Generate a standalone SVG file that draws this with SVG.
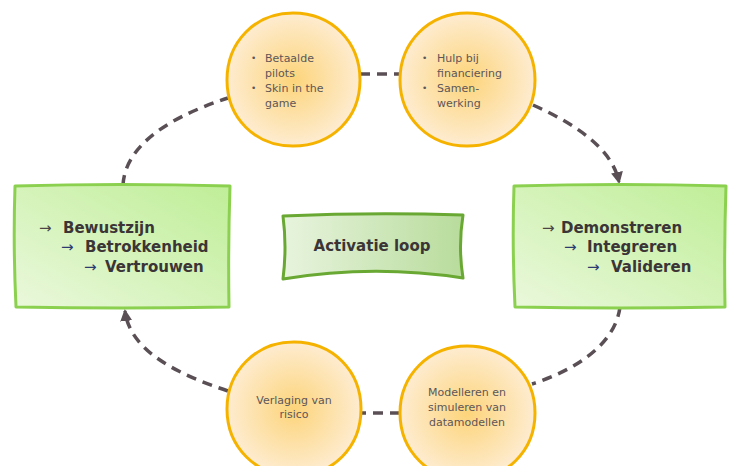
<svg xmlns="http://www.w3.org/2000/svg" width="732" height="466" viewBox="0 0 732 466">
  <style>
    .bubble { fill: url(#bubbleFill); stroke: #f5b300; stroke-width: 3; }
    .stage { fill: url(#stageFill); stroke: #8bd04f; stroke-width: 3; stroke-linejoin: round; }
    .hub { fill: url(#hubFill); stroke: #69a832; stroke-width: 3; stroke-linejoin: round; }
    .small { font-family: "DejaVu Sans", Verdana, sans-serif; font-size: 11px; fill: #5c5658; }
    .dot { font-family: "DejaVu Sans", Verdana, sans-serif; font-size: 9px; fill: #5c5658; }
    .big { font-family: "DejaVu Sans", Verdana, sans-serif; font-size: 15px; font-weight: bold; fill: #3b3537; }
    .arr1 { font-family: "Noto Sans", "DejaVu Sans", sans-serif; font-size: 15px; fill: #4a4446; }
    .arr2 { font-family: "Noto Sans", "DejaVu Sans", sans-serif; font-size: 15px; fill: #2c3a72; }
    .flow { fill: none; stroke: #594f54; stroke-width: 3.5; stroke-dasharray: 10 7; }
  </style>
  <defs>
    <radialGradient id="bubbleFill" cx="50%" cy="50%" r="50%">
      <stop offset="0" stop-color="#fcd47a"/>
      <stop offset="1" stop-color="#feecd0"/>
    </radialGradient>
    <linearGradient id="stageFill" x1="0" y1="1" x2="1" y2="0">
      <stop offset="0" stop-color="#eaf8dc"/>
      <stop offset="1" stop-color="#bfee97"/>
    </linearGradient>
    <linearGradient id="hubFill" x1="0" y1="0" x2="1" y2="0">
      <stop offset="0" stop-color="#e8f4de"/>
      <stop offset="1" stop-color="#b8dc9c"/>
    </linearGradient>
    <marker id="head" markerUnits="userSpaceOnUse" markerWidth="14" markerHeight="14" refX="10" refY="6" orient="auto">
      <path d="M0,0 L12,6 L0,12 Z" fill="#594f54"/>
    </marker>
  </defs>

  <!-- dashed cycle connectors -->
  <g id="connectors">
    <path class="flow" d="M123,185 C125,150 160,120 228,98"/>
    <path class="flow" d="M360,74 L400,74"/>
    <path class="flow" d="M533,105 C575,124 612,148 619,182" marker-end="url(#head)"/>
    <path class="flow" d="M620,307 C615,345 575,370 532,384"/>
    <path class="flow" d="M400,413 L362,413"/>
    <path class="flow" d="M228,391 C180,375 130,352 125,311" marker-end="url(#head)"/>
  </g>

  <g id="bubble-pilots">
    <path class="bubble" d="M293,13 C332,13 360,42 360,80 C360,118 332,146 293,146 C255,146 227,118 227,80 C227,42 255,13 293,13 Z"/>
    <text class="dot" x="251" y="61">•</text>
    <text class="small" x="265" y="62">Betaalde</text>
    <text class="small" x="265" y="77">pilots</text>
    <text class="dot" x="251" y="91">•</text>
    <text class="small" x="265" y="92">Skin in the</text>
    <text class="small" x="265" y="107">game</text>
  </g>

  <g id="bubble-financiering">
    <path class="bubble" d="M467,13 C506,13 535,42 535,80 C535,118 506,146 467,146 C429,146 400,118 400,80 C400,42 429,13 467,13 Z"/>
    <text class="dot" x="422" y="61">•</text>
    <text class="small" x="437" y="62">Hulp bij</text>
    <text class="small" x="437" y="77">financiering</text>
    <text class="dot" x="422" y="91">•</text>
    <text class="small" x="437" y="92">Samen-</text>
    <text class="small" x="437" y="107">werking</text>
  </g>

  <g id="bubble-risico">
    <path class="bubble" d="M294,342 C333,342 361,371 361,409 C361,447 333,476 294,476 C256,476 227,447 227,409 C227,371 256,342 294,342 Z"/>
    <text class="small" x="294" y="404" text-anchor="middle">Verlaging van</text>
    <text class="small" x="294" y="418" text-anchor="middle">risico</text>
  </g>

  <g id="bubble-modelleren">
    <path class="bubble" d="M467,346 C506,346 535,375 535,413 C535,451 506,480 467,480 C429,480 400,451 400,413 C400,375 429,346 467,346 Z"/>
    <text class="small" x="467" y="396" text-anchor="middle">Modelleren en</text>
    <text class="small" x="467" y="411" text-anchor="middle">simuleren van</text>
    <text class="small" x="467" y="426" text-anchor="middle">datamodellen</text>
  </g>

  <g id="stage-bewustzijn">
    <path class="stage" d="M15,186 Q120,183 230,186 Q228,246 229,307 Q120,309 16,307 Q13,246 15,186 Z"/>
    <text class="arr1" x="39" y="233">→</text>
    <text class="big" x="63" y="233">Bewustzijn</text>
    <text class="arr2" x="61" y="252">→</text>
    <text class="big" x="85" y="252">Betrokkenheid</text>
    <text class="arr2" x="84" y="272">→</text>
    <text class="big" x="105" y="272">Vertrouwen</text>
  </g>

  <g id="stage-demonstreren">
    <path class="stage" d="M514,186 Q620,183 726,186 Q724,246 725,307 Q620,309 515,307 Q512,246 514,186 Z"/>
    <text class="arr1" x="542" y="233">→</text>
    <text class="big" x="561" y="233">Demonstreren</text>
    <text class="arr2" x="564" y="252">→</text>
    <text class="big" x="587" y="252">Integreren</text>
    <text class="arr2" x="587" y="272">→</text>
    <text class="big" x="611" y="272">Valideren</text>
  </g>

  <g id="hub">
    <path class="hub" d="M283,216 Q373,212 463,215 Q458,247 463,278 Q373,264 283,279 Q287,247 283,216 Z"/>
    <text class="big" x="372" y="251" text-anchor="middle">Activatie loop</text>
  </g>
</svg>
